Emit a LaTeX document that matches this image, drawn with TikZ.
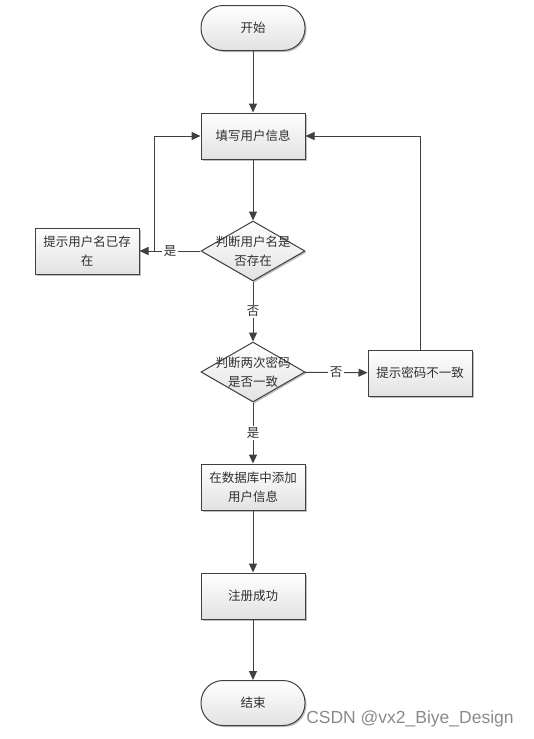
\documentclass[tikz,border=0pt]{standalone}
\usepackage{fontspec}
\newfontfamily\cjk{Noto Sans CJK SC}
\newfontfamily\wm{Liberation Sans}
\usetikzlibrary{arrows.meta,shapes.geometric,shadows}
\definecolor{linec}{HTML}{404040}
\definecolor{boxbot}{HTML}{E2E2E2}
\definecolor{textc}{HTML}{303030}
\definecolor{wmc}{HTML}{8A8A8A}
\begin{document}
\begin{tikzpicture}[x=1pt,y=-1pt,
  base/.style={draw=linec, line width=1pt, top color=white, bottom color=boxbot,
    drop shadow={shadow xshift=1.5pt,shadow yshift=-1.5pt,fill=black,opacity=0.25},
    font=\cjk\fontsize{12.5}{19}\selectfont, text=textc, align=center},
  proc/.style={base, rectangle, minimum width=104pt, minimum height=46pt, inner sep=0pt},
  term/.style={base, rectangle, rounded corners=22pt, minimum width=104pt, minimum height=45pt, inner sep=0pt},
  dia/.style={base, diamond, minimum width=104pt, minimum height=60pt, inner sep=0pt},
  txt/.style={font=\cjk\fontsize{12.5}{19}\selectfont, text=textc, align=center, inner sep=0pt},
  lbl/.style={fill=white, inner sep=1.5pt, font=\cjk\fontsize{12.5}{14}\selectfont, text=textc},
  arr/.style={draw=linec, line width=1pt, -{Triangle[length=9pt,width=8pt]}}]
\useasboundingbox (0,0) rectangle (534,739);
\node[term] (start) at (253,28) {开始};
\node[proc] (fill) at (253,136) {填写用户信息};
\node[dia] (d1) at (253,251) {};
\node[txt] (d1t) at (253,251) {判断用户名是\\否存在};
\node[proc] (exist) at (87,251) {提示用户名已存\\在};
\node[dia] (d2) at (253,372) {};
\node[txt] (d2t) at (253,372) {判断两次密码\\是否一致};
\node[proc] (mis) at (420,373) {提示密码不一致};
\node[proc] (db) at (253,487) {在数据库中添加\\用户信息};
\node[proc] (succ) at (253,596) {注册成功};
\node[term] (end) at (253,703) {结束};
\node[font=\wm\fontsize{17.5}{17.5}\selectfont, text=wmc, inner sep=0pt] (wm) at (410,719) {CSDN @vx2\_Biye\_Design};
\coordinate (j1) at (154,251);
\draw[arr] (start) -- (fill);
\draw[arr] (fill) -- (d1);
\draw[arr] (d1) -- node[lbl]{是} (exist);
\draw[arr] (j1) |- (fill.west);
\draw[arr] (d1) -- node[lbl]{否} (d2);
\draw[arr] (d2) -- node[lbl]{否} (mis);
\draw[arr] (mis.north) |- (fill.east);
\draw[arr] (d2) -- node[lbl]{是} (db);
\draw[arr] (db) -- (succ);
\draw[arr] (succ) -- (end);
\end{tikzpicture}
\end{document}
